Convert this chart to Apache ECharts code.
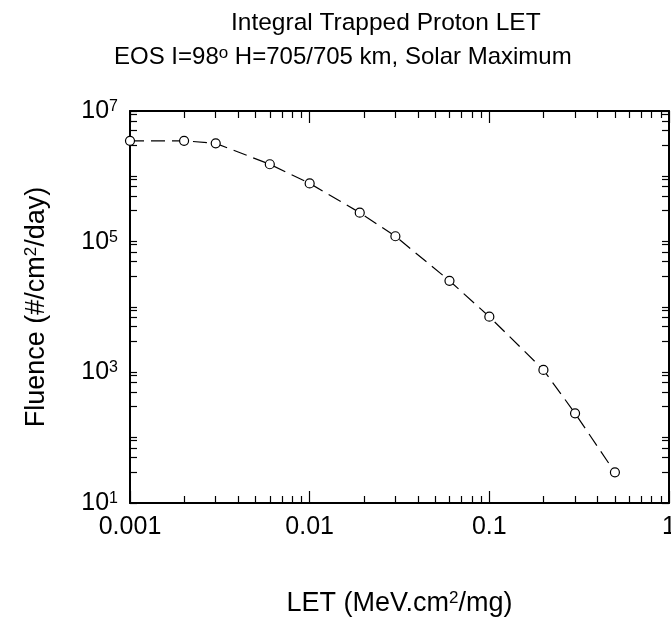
<!DOCTYPE html>
<html>
<head>
<meta charset="utf-8">
<script src="https://cdn.jsdelivr.net/npm/echarts@6/dist/echarts.min.js"></script>
<style>
  html, body { margin: 0; padding: 0; background: #fff; }
  #chart { width: 671px; height: 619px; }
</style>
</head>
<body>
<div id="chart"></div>
<script>
// Integral trapped proton LET spectrum (fluence per day vs LET)
const letValues = [0.001, 0.002, 0.003, 0.006, 0.01, 0.019, 0.03, 0.06, 0.1, 0.2, 0.3, 0.5];
const fluence   = [3.5e6, 3.5e6, 3.2e6, 1.53e6, 7.8e5, 2.78e5, 1.21e5, 2.52e4, 7.1e3, 1.09e3, 236, 29.5];

// Axis ticks and tick labels
const xMajorTicks = [0.001, 0.01, 0.1, 1];
const xTickLabels = ['0.001', '0.01', '0.1', '1'];
const xMinorTicks = [
  0.002, 0.003, 0.004, 0.005, 0.006, 0.007, 0.008, 0.009,
  0.02, 0.03, 0.04, 0.05, 0.06, 0.07, 0.08, 0.09,
  0.2, 0.3, 0.4, 0.5, 0.6, 0.7, 0.8, 0.9
];
const yTicks = [
  10, 30, 50, 70, 90,
  100, 300, 500, 700, 900,
  1e3, 3e3, 5e3, 7e3, 9e3,
  1e4, 3e4, 5e4, 7e4, 9e4,
  1e5, 3e5, 5e5, 7e5, 9e5,
  1e6, 3e6, 5e6, 7e6, 9e6,
  1e7
];
const yLabelValues = [10, 1e3, 1e5, 1e7];
const yLabelExponents = ['1', '3', '5', '7'];

const FONT = 'Liberation Sans, Arial, Helvetica, sans-serif';
const INK = '#000';

function nearestIndex(list, v) {
  return list.findIndex(t => Math.abs(Math.log10(t) - Math.log10(v)) < 1e-6);
}

const axisLineStyle = { show: true, lineStyle: { color: INK, width: 2 } };
const tickLine = { color: INK, width: 1.2 };

// rich styles for text with a superscript
function supStyles(size, supSize, lift) {
  return {
    a: { fontSize: size, fontFamily: FONT, color: INK, lineHeight: size, padding: [lift, 0, 0, 0], verticalAlign: 'bottom' },
    s: { fontSize: supSize, fontFamily: FONT, color: INK, lineHeight: supSize, verticalAlign: 'top' }
  };
}

const chart = echarts.init(document.getElementById('chart'), null, { renderer: 'canvas' });

const option = {
  animation: false,
  backgroundColor: '#fff',
  title: [
    {
      text: 'Integral Trapped Proton LET',
      left: 231, top: 11, padding: 0,
      textStyle: { fontSize: 24.5, fontWeight: 'normal', fontFamily: FONT, color: INK }
    },
    {
      text: '{a|EOS I=98}{s|o}{a| H=705/705 km, Solar Maximum}',
      left: 114, top: 45, padding: 0,
      textStyle: {
        fontSize: 24, fontWeight: 'normal', fontFamily: FONT, color: INK,
        rich: supStyles(24, 17, 18)
      }
    }
  ],
  grid: {
    left: 130, right: 2, top: 111, bottom: 116,
    containLabel: false, outerBoundsMode: 'none'
  },
  xAxis: [
    {
      type: 'log', logBase: 10, position: 'bottom', min: 0.001, max: 1,
      axisLine: axisLineStyle,
      axisTick: { show: true, inside: true, length: 12, customValues: xMajorTicks, lineStyle: tickLine },
      axisLabel: {
        show: true, customValues: xMajorTicks, margin: 12,
        fontSize: 25, fontFamily: FONT, color: INK,
        formatter: v => xTickLabels[nearestIndex(xMajorTicks, v)]
      },
      splitLine: { show: false },
      name: '{a|LET (MeV.cm}{s|2}{a|/mg)}',
      nameLocation: 'middle', nameGap: 87, nameMoveOverlap: false,
      nameTextStyle: { fontSize: 27, fontFamily: FONT, color: INK, rich: supStyles(27, 17, 10) }
    },
    {
      type: 'log', logBase: 10, position: 'bottom', min: 0.001, max: 1,
      axisLine: { show: false },
      axisTick: { show: true, inside: true, length: 7, customValues: xMinorTicks, lineStyle: tickLine },
      axisLabel: { show: false }, splitLine: { show: false }
    },
    {
      type: 'log', logBase: 10, position: 'top', min: 0.001, max: 1,
      axisLine: axisLineStyle,
      axisTick: { show: true, inside: true, length: 12, customValues: xMajorTicks, lineStyle: tickLine },
      axisLabel: { show: false }, splitLine: { show: false }
    },
    {
      type: 'log', logBase: 10, position: 'top', min: 0.001, max: 1,
      axisLine: { show: false },
      axisTick: { show: true, inside: true, length: 7, customValues: xMinorTicks, lineStyle: tickLine },
      axisLabel: { show: false }, splitLine: { show: false }
    }
  ],
  yAxis: [
    {
      type: 'log', logBase: 10, position: 'left', min: 10, max: 1e7,
      axisLine: axisLineStyle,
      axisTick: { show: true, inside: true, length: 7, customValues: yTicks, lineStyle: tickLine },
      axisLabel: {
        show: true, customValues: yLabelValues, margin: 12,
        formatter: v => '{a|10}{s|' + yLabelExponents[nearestIndex(yLabelValues, v)] + '}',
        rich: supStyles(25, 16, 5)
      },
      splitLine: { show: false },
      name: '{a|Fluence (#/cm}{s|2}{a|/day)}',
      nameLocation: 'middle', nameGap: 80, nameMoveOverlap: false,
      nameTextStyle: { fontSize: 27, fontFamily: FONT, color: INK, rich: supStyles(27, 17, 10) }
    },
    {
      type: 'log', logBase: 10, position: 'right', min: 10, max: 1e7,
      axisLine: axisLineStyle,
      axisTick: { show: true, inside: true, length: 7, customValues: yTicks, lineStyle: tickLine },
      axisLabel: { show: false }, splitLine: { show: false }
    }
  ],
  series: [
    {
      type: 'line',
      xAxisIndex: 0, yAxisIndex: 0,
      data: letValues.map((x, i) => [x, fluence[i]]),
      symbol: 'circle', symbolSize: 9, showAllSymbol: true,
      itemStyle: { color: '#fff', borderColor: INK, borderWidth: 1.2 },
      lineStyle: { color: INK, width: 1.2, type: [14, 7] },
      z: 1
    }
  ]
};

chart.setOption(option);
</script>
</body>
</html>
